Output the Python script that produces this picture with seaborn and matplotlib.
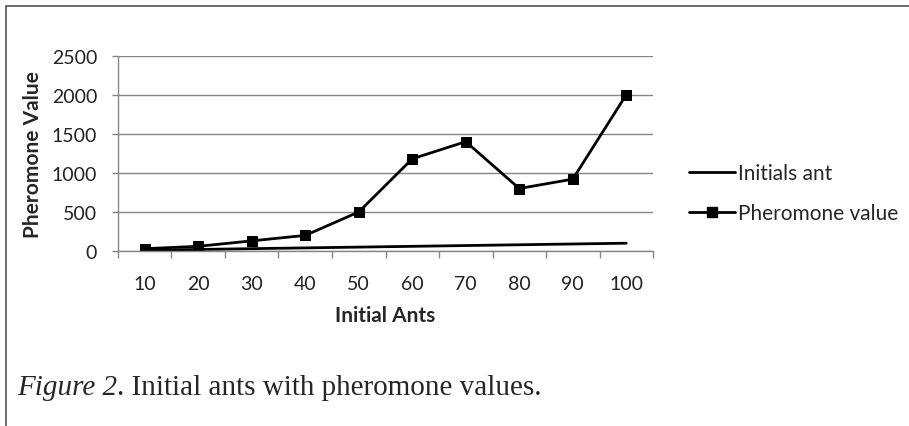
import numpy as np
import pandas as pd
import matplotlib
matplotlib.use("Agg")
import matplotlib.pyplot as plt
from matplotlib.lines import Line2D
import seaborn as sns

# values
initial_ants = ["10", "20", "30", "40", "50", "60", "70", "80", "90", "100"]
initials_ant = [10, 20, 30, 40, 50, 60, 70, 80, 90, 100]
pheromone_value = [30, 60, 130, 200, 500, 1180, 1400, 800, 920, 2000]
y_ticks = [0, 500, 1000, 1500, 2000, 2500]

sns.set_theme(style="white")
plt.rcParams["font.family"] = ["Lato", "DejaVu Sans"]

df = pd.DataFrame({
    "ants": initial_ants,
    "initials": initials_ant,
    "pheromone": pheromone_value,
})

fig = plt.figure(figsize=(9.09, 4.27), dpi=100)
ax = fig.add_axes([0.1298, 0.4098, 0.5886, 0.4574])

sns.lineplot(data=df, x="ants", y="initials", color="black", linewidth=2.0,
             sort=False, ax=ax)
sns.lineplot(data=df, x="ants", y="pheromone", color="black", linewidth=2.0,
             marker="s", markersize=7, markeredgecolor="black", sort=False, ax=ax)

ax.set_xlim(-0.5, len(initial_ants) - 0.5)
ax.set_ylim(0, 2500)
ax.set_yticks(y_ticks)
ax.set_yticklabels([str(t) for t in y_ticks], fontsize=14)
ax.set_xticks(range(len(initial_ants)))
ax.set_xticklabels(initial_ants, fontsize=14)
ax.set_xticks(np.arange(-0.5, len(initial_ants)), minor=True)
ax.tick_params(axis="x", which="major", length=0, pad=17, colors="#222222")
ax.tick_params(axis="x", which="minor", length=5, width=1, color="#868686", bottom=True)
ax.tick_params(axis="y", length=4.5, width=1, pad=10.5, color="#868686",
               labelcolor="#222222", left=True)

ax.yaxis.grid(True, color="#868686", linewidth=1)
ax.set_axisbelow(True)
for s in ["top", "right"]:
    ax.spines[s].set_visible(False)
for s in ["left", "bottom"]:
    ax.spines[s].set_color("#868686")
    ax.spines[s].set_linewidth(1)

ax.set_xlabel("Initial Ants", fontsize=15, fontweight="bold", va="center")
ax.set_ylabel("Pheromone Value", fontsize=15, fontweight="bold", va="center")
ax.xaxis.set_label_coords(0.5, -0.328)
ax.yaxis.set_label_coords(-0.159, 0.5)

handles = [
    Line2D([], [], color="black", linewidth=2.0),
    Line2D([], [], color="black", linewidth=2.0, marker="s", markersize=7),
]
fig.legend(handles, ["Initials ant", "Pheromone value"], loc="center left",
           bbox_to_anchor=(0.737, 0.545), frameon=False, fontsize=15,
           handlelength=2.2, handletextpad=0.15, labelspacing=0.95)

# caption: italic "Figure 2" followed by roman text
cap1 = fig.text(0.019, 0.075, "Figure 2", fontsize=21, style="italic",
                family=["Liberation Serif"], va="baseline")
fig.canvas.draw()
bb = cap1.get_window_extent(renderer=fig.canvas.get_renderer())
fig.text(bb.x1 / fig.bbox.width, 0.075, ". Initial ants with pheromone values.",
         fontsize=21, family=["Liberation Serif"], va="baseline")

# partial frame around the figure (top and left only)
fig.add_artist(Line2D([0.007, 1.0], [0.984, 0.984], color="#555555", linewidth=1.2,
                      transform=fig.transFigure))
fig.add_artist(Line2D([0.007, 0.007], [0.0, 0.984], color="#555555", linewidth=1.2,
                      transform=fig.transFigure))

fig.savefig("out.png", dpi=100)
